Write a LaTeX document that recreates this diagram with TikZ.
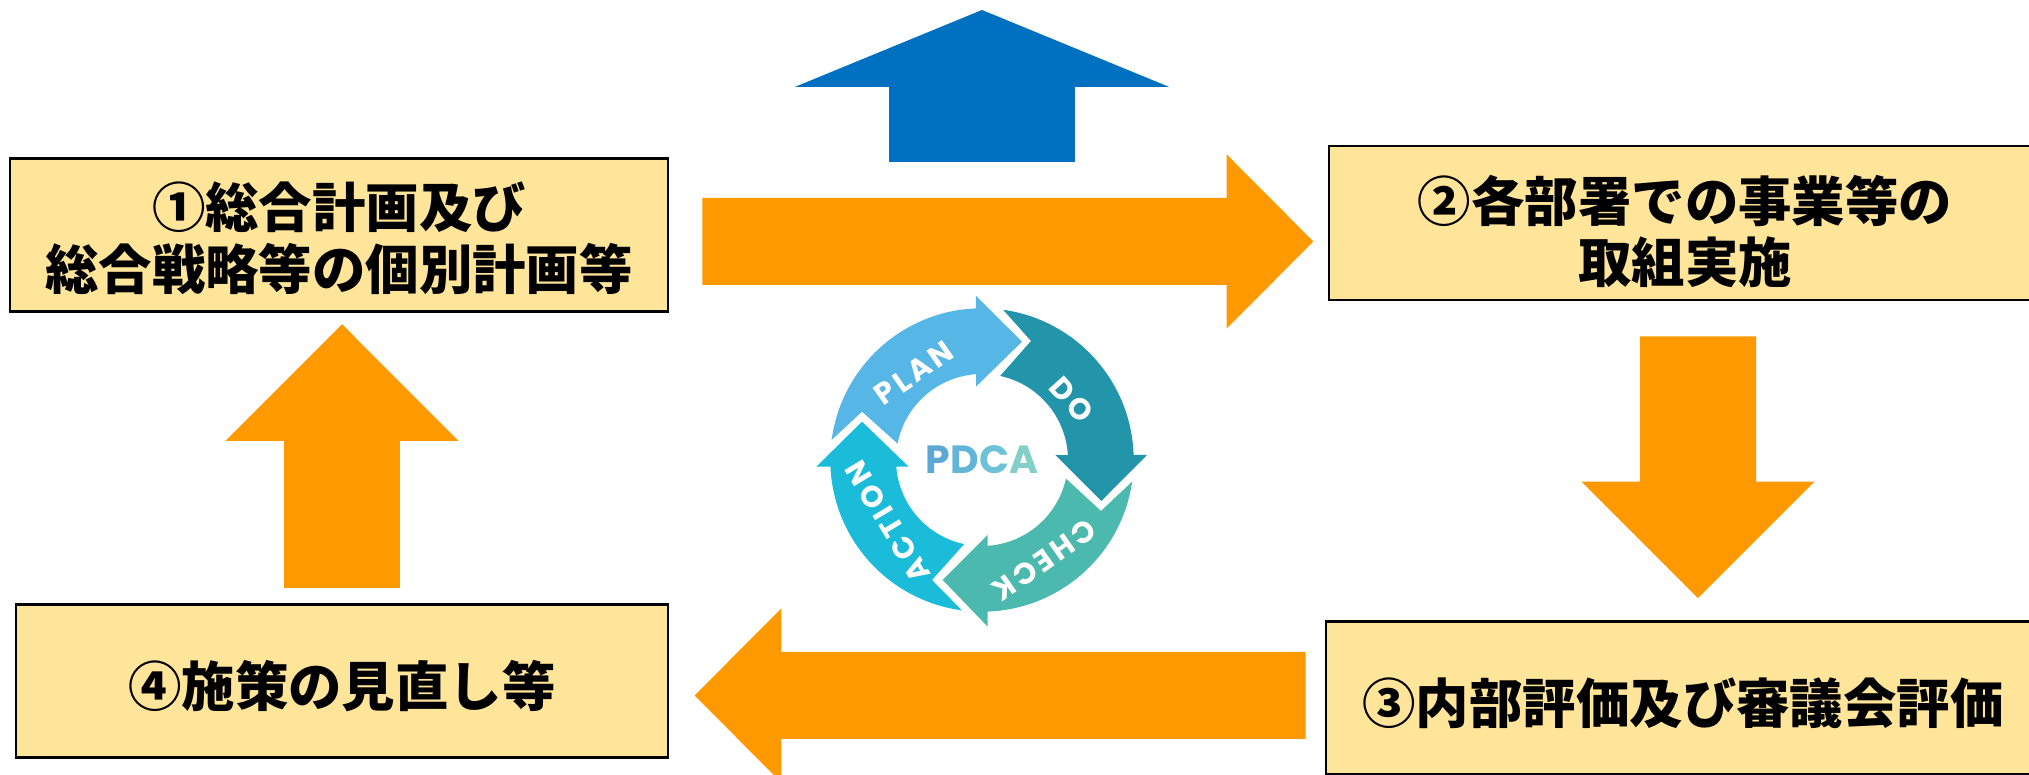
\documentclass[tikz,border=0pt]{standalone}
\usepackage{fontspec}
\usepackage{xcolor}
\usetikzlibrary{positioning,arrows.meta}
\newfontfamily\cjk{Noto Sans CJK JP}
\newfontfamily\ringfont[LetterSpace=12]{Poppins}
\newfontfamily\coreofont{Poppins}
\definecolor{boxfill}{HTML}{FFE599}
\definecolor{flow}{HTML}{FF9900}
\definecolor{upblue}{HTML}{0070C0}
\definecolor{planc}{HTML}{56B6E6}
\definecolor{doc}{HTML}{2395AB}
\definecolor{checkc}{HTML}{4BB9AD}
\definecolor{actionc}{HTML}{1BBCD9}
\newcommand{\boxtop}[1]{\rule{0pt}{#1pt}}
\tikzset{
  stepbox/.style={rectangle, draw=black, line width=0.8pt, fill=boxfill, inner sep=0pt, align=center,
    font=\cjk\bfseries\fontsize{15.2}{17.6}\selectfont},
  flowh/.style={draw=flow, line width=0.87cm, -{Triangle[length=0.87cm, width=1.69cm]}},
  flowv/.style={draw=flow, line width=1.16cm, -{Triangle[length=1.17cm, width=2.26cm]}},
  ringlabel/.style={text=white, inner sep=0pt, font=\ringfont\bfseries\fontsize{8.5}{10}\selectfont},
}
\begin{document}
\begin{tikzpicture}
    \useasboundingbox (0,0) rectangle (20.29,7.75);
    \node[stepbox, minimum width=6.58cm, minimum height=1.53cm] (box1) at (3.39, 5.40) {\boxtop{15}①総合計画及び\\総合戦略等の個別計画等};
    \node[stepbox, minimum width=7.12cm, minimum height=1.54cm] (box2) at (16.85, 5.52) {\boxtop{18}②各部署での事業等の\\取組実施};
    \node[stepbox, minimum width=7.14cm, minimum height=1.53cm] (box3) at (16.83, 0.77) {\boxtop{16}③内部評価及び審議会評価};
    \node[stepbox, minimum width=6.52cm, minimum height=1.53cm] (box4) at (3.42, 0.94) {\boxtop{16}④施策の見直し等};

    \draw[flowh] ([xshift=0.33cm, yshift=-0.065cm]box1.east) -- ([xshift=-0.14cm, yshift=-0.185cm]box2.west);
    \draw[flowv] ([xshift=0.13cm, yshift=-0.35cm]box2.south) -- ([xshift=0.15cm, yshift=0.215cm]box3.north);
    \draw[flowh] ([xshift=-0.19cm, yshift=0.025cm]box3.west) -- ([xshift=0.25cm, yshift=-0.145cm]box4.east);
    \draw[flowv] ([xshift=0.00cm, yshift=0.155cm]box4.north) -- ([xshift=0.03cm, yshift=-0.11cm]box1.south);

    \coordinate (upbase) at (9.82, 6.13);
    \coordinate (uptop) at (9.82, 7.65);
    \draw[draw=upblue, line width=1.86cm, -{Triangle[length=0.77cm, width=3.72cm]}] (upbase) -- (uptop);

    \begin{scope}[shift={(9.82, 3.15)}]
        \fill[planc] (172.4:1.517) arc (172.4:92.3:1.517) -- (-0.06,1.64) -- (0.40,1.183) -- (-0.06,0.733) -- (94:0.86) arc (94:169:0.86) -- (-1.2,0.483) -- cycle;
        \fill[doc] (82:1.517) arc (82:1.9:1.517) -- (1.65,0.05) -- (1.193,-0.41) -- (0.733,0.05) -- (3.3:0.86) arc (3.3:77.8:0.86) -- (0.49,1.19) -- cycle;
        \fill[checkc] (-8.2:1.517) arc (-8.2:-87.9:1.517) -- (0.057,-1.667) -- (-0.393,-1.2) -- (0.057,-0.75) -- (-86.3:0.86) arc (-86.3:-12.5:0.86) -- (1.19,-0.51) -- cycle;
        \fill[actionc] (262.4:1.517) arc (262.4:182.5:1.517) -- (-1.657,-0.067) -- (-1.2,0.383) -- (-0.733,-0.067) -- (184.4:0.86) arc (184.4:258:0.86) -- (-0.5,-1.2) -- cycle;
        \foreach \name/\txt/\pos/\rot in {lblplan/PLAN/{(-0.68,0.87)}/35, lbldo/DO/{(0.90,0.6)}/-48, lblcheck/CHECK/{(0.62,-1.0)}/215, lblaction/ACTION/{(-0.94,-0.62)}/121} {
            \node[ringlabel, rotate=\rot] (\name) at \pos {\txt};
        }
        \node[font=\coreofont\bfseries\fontsize{11.2}{14}\selectfont, inner sep=0pt] (core) at (0,0) {\textcolor[HTML]{5AA8D3}{P}\textcolor[HTML]{62B5D8}{D}\textcolor[HTML]{6EC2D8}{C}\textcolor[HTML]{85CFC9}{A}};
    \end{scope}
\end{tikzpicture}
\end{document}
